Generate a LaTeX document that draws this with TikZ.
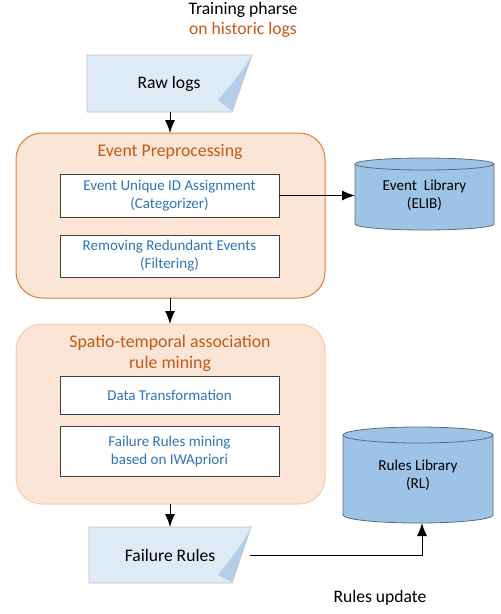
\documentclass[tikz,border=0pt]{standalone}
\usepackage{fontspec}
\setmainfont{Carlito}
\usetikzlibrary{arrows.meta}
\definecolor{docfill}{HTML}{DEEBF7}
\definecolor{docfold}{HTML}{B4CDE8}
\definecolor{docline}{HTML}{BFBFBF}
\definecolor{peach}{HTML}{FBE5D6}
\definecolor{peachdark}{HTML}{E57C36}
\definecolor{peachlight}{HTML}{F8CBAD}
\definecolor{orangetxt}{HTML}{C55A11}
\definecolor{bluetxt}{HTML}{2E75B6}
\definecolor{cylfill}{HTML}{9DC3E6}
\definecolor{cylline}{HTML}{5F6B76}
\begin{document}
\begin{tikzpicture}[x=1pt,y=-1pt,
  arr/.style={-{Latex[length=13pt,width=10pt]},line width=1pt,black},
  doc/.style={fill=docfill,draw=docline,line width=0.8pt},
  fold/.style={fill=docfold},
  bigbox/.style={rounded corners=26pt,fill=peach,line width=1pt},
  innerbox/.style={draw=black!75,fill=white,line width=0.8pt,minimum width=219pt,align=center,text=bluetxt,font=\fontsize{15}{18}\selectfont},
  titletxt/.style={text=orangetxt,font=\fontsize{17.8}{21}\selectfont,align=center},
  plaintxt/.style={font=\fontsize{17.6}{20}\selectfont,align=center},
  cyltxt/.style={font=\fontsize{15.2}{18}\selectfont,align=center},
  cylbody/.style={fill=cylfill},
  cylline/.style={draw=cylline,line width=0.8pt}]
\useasboundingbox (0,0) rectangle (501,614);
% title
\node[plaintxt] (title) at (243,20) {Training pharse\\\textcolor{orangetxt}{on historic logs}};
% Raw logs document
\path[doc] (87,55) -- (252,55) -- (232,112) -- (87,112) -- cycle;
\path[fold] (251,57) .. controls (240,75) and (228,88) .. (218,100) -- (232,111) -- cycle;
\node[plaintxt] (raw) at (169,84) {Raw logs};
\coordinate (rawB) at (170,112);
% Event Preprocessing
\draw[bigbox,draw=peachdark] (16,133) rectangle (325,298);
\coordinate (epT) at (170,133);
\coordinate (epB) at (170,298);
\node[titletxt] (eptitle) at (170,152) {Event Preprocessing};
\node[innerbox,minimum height=43pt] (b1) at (169.5,195.5) {Event Unique ID Assignment\\(Categorizer)};
\node[innerbox,minimum height=42pt] (b2) at (169.5,256) {Removing Redundant Events\\(Filtering)};
% Spatio-temporal
\draw[bigbox,draw=peachlight] (16,324) rectangle (325,504);
\coordinate (stT) at (170,324);
\coordinate (stB) at (170,504);
\node[titletxt] (sttitle) at (170,353) {Spatio-temporal association\\rule mining};
\node[innerbox,minimum height=38pt] (b3) at (169.5,395) {Data Transformation};
\node[innerbox,minimum height=50pt] (b4) at (169.5,451) {Failure Rules mining\\based on IWApriori};
% Failure Rules document
\path[doc] (89,527) -- (251,527) -- (232,583) -- (89,583) -- cycle;
\path[fold] (250,530) .. controls (240,548) and (228,562) .. (218,575) -- (232,582) -- cycle;
\node[plaintxt] (fr) at (170,555) {Failure Rules};
\coordinate (frT) at (170,527);
\coordinate (frR) at (250,555);
% Event Library cylinder
\path[cylbody] (355,164) -- (355,224) arc[start angle=180,end angle=0,x radius=69.5,y radius=6] -- (494,164) -- cycle;
\draw[cylline] (355,164) -- (355,224) arc[start angle=180,end angle=0,x radius=69.5,y radius=6] -- (494,164);
\draw[cylline,fill=cylfill] (424.5,164) ellipse[x radius=69.5,y radius=6];
\node[cyltxt] (elib) at (424.5,195) {Event\ \ Library\\(ELIB)};
\coordinate (elibL) at (355,195.5);
% Rules Library cylinder
\path[cylbody] (343,435) -- (343,515) arc[start angle=180,end angle=0,x radius=75,y radius=8] -- (493,435) -- cycle;
\draw[cylline] (343,435) -- (343,515) arc[start angle=180,end angle=0,x radius=75,y radius=8] -- (493,435);
\draw[cylline,fill=cylfill] (418,435) ellipse[x radius=75,y radius=8];
\node[cyltxt] (rl) at (418,475) {Rules Library\\(RL)};
\coordinate (rlB) at (422,523);
% connectors
\draw[arr] (rawB) -- (epT);
\draw[arr] (b1.east) -- (elibL);
\draw[arr] (epB) -- (stT);
\draw[arr] (stB) -- (frT);
\draw[arr] (frR) -| (rlB);
\node[plaintxt] (upd) at (380,598) {Rules update};
\end{tikzpicture}
\end{document}
